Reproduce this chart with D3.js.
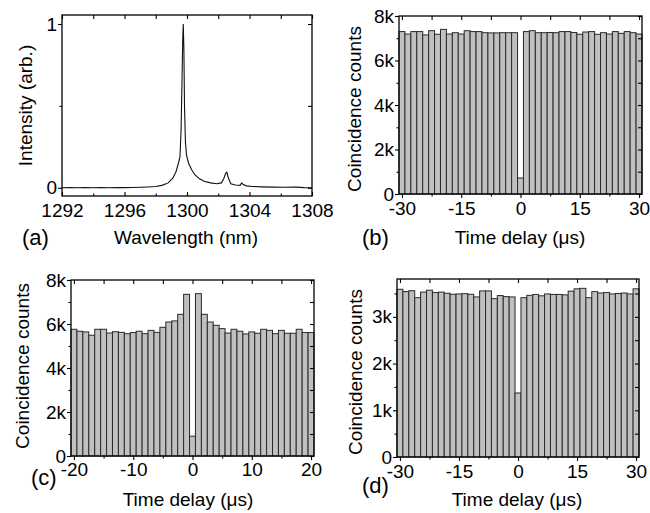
<!DOCTYPE html>
<html>
<head>
<meta charset="utf-8">
<script src="https://cdn.jsdelivr.net/npm/d3@7"></script>
<style>
    body { margin: 0; background: #fff; }
    svg text { font-family: "Liberation Sans", Arial, sans-serif; fill: #000; }
</style>
</head>
<body>
<svg width="650" height="513"></svg>
<script>
// (a) emission spectrum
const wavelength = [1292, 1292.5, 1293, 1293.5, 1294, 1294.5, 1295, 1295.5, 1296, 1296.5, 1297, 1297.5, 1298, 1298.4, 1298.8, 1299.1, 1299.3, 1299.45, 1299.55, 1299.62, 1299.68, 1299.73, 1299.76, 1299.8, 1299.84, 1299.9, 1299.97, 1300.1, 1300.3, 1300.5, 1300.8, 1301.1, 1301.5, 1301.9, 1302.2, 1302.35, 1302.48, 1302.55, 1302.65, 1302.8, 1303.1, 1303.4, 1303.5, 1303.6, 1303.8, 1304.2, 1304.8, 1305.5, 1306.2, 1307, 1307.5, 1308];
const intensity = [0, 0.001, 0, 0.002, 0, 0.001, 0, 0.002, 0.001, 0.002, 0.003, 0.005, 0.008, 0.015, 0.03, 0.06, 0.1, 0.15, 0.19, 0.35, 0.65, 0.92, 1.0, 0.85, 0.5, 0.28, 0.2, 0.15, 0.11, 0.08, 0.055, 0.04, 0.03, 0.025, 0.03, 0.055, 0.09, 0.095, 0.06, 0.025, 0.017, 0.015, 0.03, 0.02, 0.012, 0.008, 0.006, 0.004, 0.003, 0.004, 0.001, 0];

// (b) and (d) histogram bins, 1.5 us
const delayB = [-30, -28.5, -27, -25.5, -24, -22.5, -21, -19.5, -18, -16.5, -15, -13.5, -12, -10.5, -9, -7.5, -6, -4.5, -3, -1.5, 0, 1.5, 3, 4.5, 6, 7.5, 9, 10.5, 12, 13.5, 15, 16.5, 18, 19.5, 21, 22.5, 24, 25.5, 27, 28.5, 30];
const countsB = [7300, 7190, 7300, 7300, 7150, 7340, 7180, 7400, 7190, 7250, 7190, 7340, 7300, 7300, 7250, 7240, 7240, 7250, 7250, 7250,
    720,
    7300, 7340, 7250, 7250, 7260, 7250, 7300, 7300, 7260, 7180, 7280, 7300, 7180, 7250, 7190, 7300, 7220, 7300, 7250, 7190];

// (c) histogram bins, 1 us
const delayC = [-20, -19, -18, -17, -16, -15, -14, -13, -12, -11, -10, -9, -8, -7, -6, -5, -4, -3, -2, -1, 0, 1, 2, 3, 4, 5, 6, 7, 8, 9, 10, 11, 12, 13, 14, 15, 16, 17, 18, 19, 20];
const countsC = [5760, 5670, 5640, 5490, 5760, 5760, 5590, 5650, 5620, 5560, 5610, 5670, 5560, 5710, 5620, 5850, 6090, 6140, 6440, 7350,
    900,
    7380, 6440, 6090, 5940, 5790, 5590, 5760, 5670, 5550, 5640, 5580, 5760, 5710, 5560, 5710, 5580, 5580, 5760, 5610, 5610];

const delayD = delayB;
const countsD = [3590, 3540, 3560, 3410, 3530, 3570, 3520, 3530, 3505, 3483, 3490, 3497, 3483, 3426, 3555, 3555, 3390, 3455, 3433, 3426,
    1370,
    3410, 3460, 3480, 3450, 3490, 3480, 3480, 3470, 3550, 3600, 3610, 3410, 3540, 3510, 3520, 3490, 3500, 3510, 3490, 3600];

const svg = d3.select('svg');
const FONT = 19;
const kFormat = d => d === 0 ? '0' : `${d / 1000}k`;
const plainFormat = d => String(d);

const drawPanel = (p) => {
    const x = d3.scaleLinear().domain(p.xDomain).range([p.left, p.right]);
    const y = d3.scaleLinear().domain(p.yDomain).range([p.bottom, p.top]);
    const g = svg.append('g');

    // marks first, frame and ticks on top
    p.marks(g, x, y);

    const style = (sel) => {
        sel.select('.domain').remove();
        sel.selectAll('.tick line').attr('stroke', '#000').attr('stroke-width', 1.1);
        sel.selectAll('.tick text').attr('font-size', FONT).attr('fill', '#000')
            .style('font-family', '"Liberation Sans", Arial, sans-serif');
    };

    const out = p.bottomOut ? 1 : -1;
    g.append('g').attr('transform', `translate(0,${p.bottom})`)
        .call(d3.axisBottom(x).tickValues(p.xMajor).tickFormat(plainFormat).tickSize(4 * out).tickPadding(p.xPad))
        .call(style);
    g.append('g').attr('transform', `translate(0,${p.bottom})`)
        .call(d3.axisBottom(x).tickValues(p.xMinor).tickFormat('').tickSize(2.5 * out))
        .call(style);
    g.append('g').attr('transform', `translate(0,${p.top})`)
        .call(d3.axisTop(x).tickValues(p.xMajor.concat(p.xMinor)).tickFormat('').tickSize(-4))
        .call(style);

    g.append('g').attr('transform', `translate(${p.left},0)`)
        .call(d3.axisLeft(y).tickValues(p.yMajor).tickFormat(p.yFormat).tickSize(4).tickPadding(1))
        .call(style);
    g.append('g').attr('transform', `translate(${p.left},0)`)
        .call(d3.axisLeft(y).tickValues(p.yMinor).tickFormat('').tickSize(2.5))
        .call(style);
    g.append('g').attr('transform', `translate(${p.right},0)`)
        .call(d3.axisRight(y).tickValues(p.yMajor.concat(p.yMinor)).tickFormat('').tickSize(-4))
        .call(style);

    g.append('rect')
        .attr('x', p.left).attr('y', p.top)
        .attr('width', p.right - p.left).attr('height', p.bottom - p.top)
        .attr('fill', 'none').attr('stroke', '#000').attr('stroke-width', 1.3);

    g.append('text')
        .attr('transform', `translate(${p.yTitleX},${(p.top + p.bottom) / 2 + p.yTitleShift}) rotate(-90)`)
        .attr('text-anchor', 'middle').attr('dy', '0.35em')
        .attr('font-size', FONT)
        .text(p.yTitle);
    g.append('text')
        .attr('x', p.xTitleX).attr('y', p.xTitleY)
        .attr('text-anchor', 'middle')
        .attr('font-size', FONT)
        .text(p.xTitle);
    g.append('text')
        .attr('x', p.tagX).attr('y', p.tagY)
        .attr('font-size', 22)
        .text(p.tag);
};

const barMarks = (delays, counts, binWidth) => (g, x, y) => {
    g.append('g').selectAll('rect')
        .data(delays.map((d, i) => ({ delay: d, count: counts[i] })))
        .join('rect')
        .attr('x', d => x(d.delay - binWidth / 2))
        .attr('width', d => x(d.delay + binWidth / 2) - x(d.delay - binWidth / 2))
        .attr('y', d => y(d.count))
        .attr('height', d => y(0) - y(d.count))
        .attr('fill', '#c0c0c0')
        .attr('stroke', '#2a2a2a')
        .attr('stroke-width', 1);
};

drawPanel({
    left: 62, right: 312, top: 15, bottom: 196,
    xDomain: [1292, 1308], yDomain: [-0.05, 1.055],
    xMajor: [1292, 1296, 1300, 1304, 1308], xMinor: [1294, 1298, 1302, 1306], xPad: 8,
    yMajor: [0, 1], yMinor: [0.5], yFormat: d3.format('d'),
    bottomOut: false,
    yTitle: 'Intensity (arb.)', yTitleX: 25, yTitleShift: 0,
    xTitle: 'Wavelength (nm)', xTitleX: 186, xTitleY: 244,
    tag: '(a)', tagX: 22, tagY: 245,
    marks: (g, x, y) => {
        const line = d3.line().x((d, i) => x(wavelength[i])).y(d => y(d));
        g.append('path').attr('d', line(intensity))
            .attr('fill', 'none').attr('stroke', '#111').attr('stroke-width', 1.1);
    }
});

drawPanel({
    left: 399, right: 642, top: 16, bottom: 194,
    xDomain: [-30.75, 30.75], yDomain: [0, 8000],
    xMajor: [-30, -15, 0, 15, 30], xMinor: [-22.5, -7.5, 7.5, 22.5], xPad: 4,
    yMajor: [0, 2000, 4000, 6000, 8000], yMinor: [1000, 3000, 5000, 7000], yFormat: kFormat,
    bottomOut: true,
    yTitle: 'Coincidence counts', yTitleX: 354, yTitleShift: 4,
    xTitle: 'Time delay (\u03bcs)', xTitleX: 520, xTitleY: 244,
    tag: '(b)', tagX: 362, tagY: 245,
    marks: barMarks(delayB, countsB, 1.5)
});

drawPanel({
    left: 71, right: 314, top: 280, bottom: 456,
    xDomain: [-20.5, 20.5], yDomain: [0, 8000],
    xMajor: [-20, -10, 0, 10, 20], xMinor: [-15, -5, 5, 15], xPad: 3,
    yMajor: [0, 2000, 4000, 6000, 8000], yMinor: [1000, 3000, 5000, 7000], yFormat: kFormat,
    bottomOut: true,
    yTitle: 'Coincidence counts', yTitleX: 22, yTitleShift: -2,
    xTitle: 'Time delay (\u03bcs)', xTitleX: 188, xTitleY: 506,
    tag: '(c)', tagX: 31, tagY: 485,
    marks: barMarks(delayC, countsC, 1)
});

drawPanel({
    left: 397, right: 639, top: 279, bottom: 457,
    xDomain: [-30.75, 30.75], yDomain: [0, 3810],
    xMajor: [-30, -15, 0, 15, 30], xMinor: [-22.5, -7.5, 7.5, 22.5], xPad: 4,
    yMajor: [0, 1000, 2000, 3000], yMinor: [500, 1500, 2500, 3500], yFormat: kFormat,
    bottomOut: true,
    yTitle: 'Coincidence counts', yTitleX: 355, yTitleShift: 4,
    xTitle: 'Time delay (\u03bcs)', xTitleX: 517, xTitleY: 506,
    tag: '(d)', tagX: 362, tagY: 493,
    marks: barMarks(delayD, countsD, 1.5)
});
</script>
</body>
</html>
